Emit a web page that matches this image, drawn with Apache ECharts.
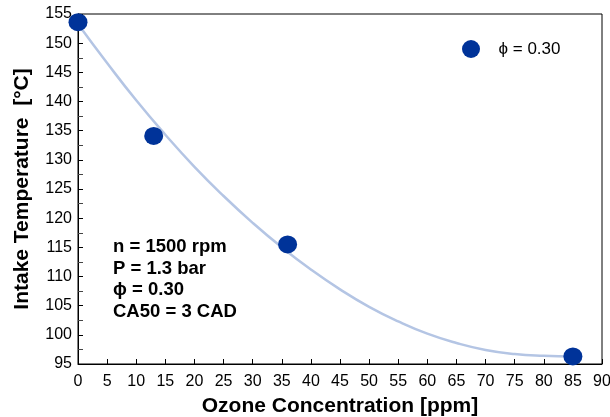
<!DOCTYPE html>
<html>
<head>
<meta charset="utf-8">
<script src="https://cdn.jsdelivr.net/npm/echarts@6/dist/echarts.min.js"></script>
<style>
html,body{margin:0;padding:0;background:#fff;}
#chart{width:610px;height:417px;}
</style>
</head>
<body>
<div id="chart"></div>
<script>
// measured points: ozone [ppm] vs intake temperature [°C]
var ozone = [0, 13, 36, 85];
var intakeT = [153.6, 134.1, 115.5, 96.3];
// trend curve
var curveX = [0, 5, 10, 15, 20, 25, 30, 35, 40, 45, 50, 55, 60, 65, 70, 75, 80, 85];
var curveY = [153.3, 146.6, 140.2, 134.3, 128.8, 123.8, 119.2, 115.0, 111.2, 107.8, 104.8, 102.3, 100.2, 98.6, 97.4, 96.7, 96.4, 96.3];
var notes = ['n = 1500 rpm', 'P = 1.3 bar', 'ϕ = 0.30', 'CA50 = 3 CAD'];
var legendName = 'ϕ = 0.30';

var font = '"Liberation Sans", Arial, sans-serif';

var pts = [];
for (var i = 0; i < ozone.length; i++) pts.push([ozone[i], intakeT[i]]);
var fit = [];
for (var j = 0; j < curveX.length; j++) fit.push([curveX[j], curveY[j]]);

var chart = echarts.init(document.getElementById('chart'));
chart.setOption({
    animation: false,
    grid: {
        left: 78, right: 8, top: 14, bottom: 53,
        outerBoundsMode: 'none',
        containLabel: false,
        show: true, borderColor: '#000', borderWidth: 1
    },
    legend: {
        data: [{name: legendName, icon: 'circle'}],
        left: 457, top: 35,
        itemWidth: 19, itemHeight: 18,
        textStyle: {fontFamily: font, fontSize: 17, color: '#000', padding: [0, 0, 0, 13]}
    },
    xAxis: {
        type: 'value', min: 0, max: 90, interval: 5,
        name: 'Ozone Concentration [ppm]',
        nameLocation: 'middle', nameGap: 32,
        nameTextStyle: {fontFamily: font, fontSize: 21, fontWeight: 'bold', color: '#000'},
        axisLine: {lineStyle: {color: '#000', width: 1}},
        axisTick: {inside: true, length: 5, lineStyle: {color: '#000'}},
        axisLabel: {fontFamily: font, fontSize: 16, color: '#000', margin: 10},
        splitLine: {show: false}
    },
    yAxis: {
        type: 'value', min: 95, max: 155, interval: 5,
        name: 'Intake Temperature  [°C]',
        nameLocation: 'middle', nameGap: 45,
        nameTextStyle: {fontFamily: font, fontSize: 21, fontWeight: 'bold', color: '#000'},
        axisLine: {show: true, lineStyle: {color: '#000', width: 1}},
        axisTick: {inside: true, length: 5, lineStyle: {color: '#000'}},
        minorTick: {show: true, splitNumber: 2, length: 5, lineStyle: {color: '#444'}},
        axisLabel: {fontFamily: font, fontSize: 16, color: '#000', margin: 6},
        splitLine: {show: false}
    },
    graphic: [{
        type: 'text', left: 113, top: 236,
        style: {
            text: notes.join('\n'),
            font: 'bold 18.5px ' + font,
            lineHeight: 21.7,
            fill: '#000'
        }
    }],
    series: [
        {
            name: 'fit', type: 'line', data: fit, smooth: true,
            showSymbol: false, silent: true,
            lineStyle: {color: '#b4c5e4', width: 2.5}, z: 1
        },
        {
            name: legendName, type: 'scatter', data: pts,
            symbolSize: [19, 18],
            itemStyle: {color: '#003399', opacity: 1}, z: 3
        }
    ]
});
</script>
</body>
</html>
